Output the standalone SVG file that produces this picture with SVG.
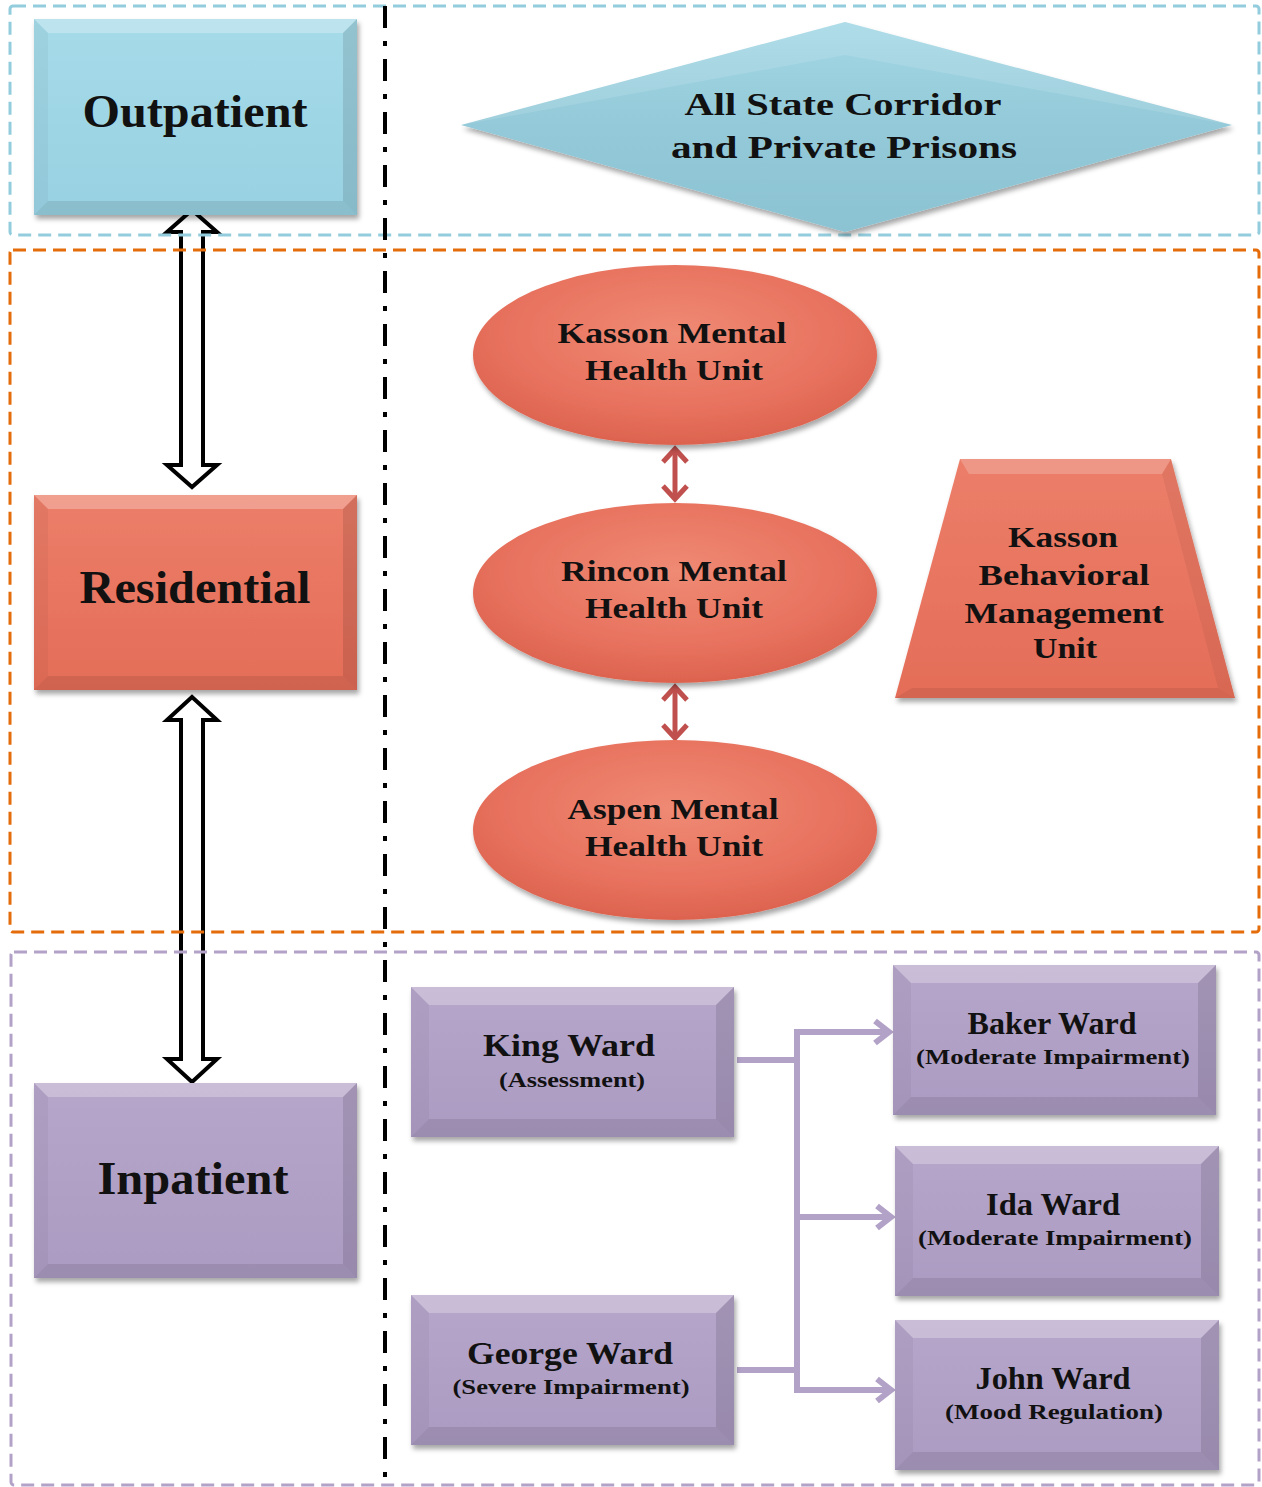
<svg xmlns="http://www.w3.org/2000/svg" width="1262" height="1487" viewBox="0 0 1262 1487">
<defs>
<style>
.t{font-family:"Liberation Serif","Times New Roman",serif;font-weight:bold;fill:#111;text-anchor:middle}
.big{font-size:46px}
.mid{font-size:31px}
.sub{font-size:22px}
.bevT{fill:#fff;opacity:.26}
.bevB{fill:#000;opacity:.09}
.bevL{fill:#000;opacity:.04}
.bevR{fill:#000;opacity:.11}
.frame{fill:none;stroke-width:3;stroke-dasharray:13 7}
</style>
<filter id="sh" x="-10%" y="-10%" width="125%" height="130%">
<feDropShadow dx="2" dy="4" stdDeviation="2.5" flood-color="#000" flood-opacity="0.35"/>
</filter>
<linearGradient id="blueG" x1="0" y1="0" x2="0" y2="1">
<stop offset="0" stop-color="#a6dbe9"/><stop offset="1" stop-color="#98d1e2"/>
</linearGradient>
<linearGradient id="diaG" x1="0" y1="0" x2="0" y2="1">
<stop offset="0" stop-color="#a4d8e6"/><stop offset="0.5" stop-color="#93c9d8"/><stop offset="1" stop-color="#8cc3d3"/>
</linearGradient>
<linearGradient id="redG" x1="0" y1="0" x2="0" y2="1">
<stop offset="0" stop-color="#ec7e69"/><stop offset="1" stop-color="#e46d58"/>
</linearGradient>
<radialGradient id="ellG" cx="50%" cy="38%" r="62%">
<stop offset="0" stop-color="#ef8a74"/><stop offset="0.65" stop-color="#e8735f"/><stop offset="1" stop-color="#dc634f"/>
</radialGradient>
<linearGradient id="purG" x1="0" y1="0" x2="0" y2="1">
<stop offset="0" stop-color="#b6a6ca"/><stop offset="1" stop-color="#ab9bc2"/>
</linearGradient>
<marker id="pArr" markerWidth="22" markerHeight="28" refX="17" refY="14" orient="auto" markerUnits="userSpaceOnUse">
<path d="M3,3 L17,14 L3,25" fill="none" stroke="#b3a2c7" stroke-width="6"/>
</marker>
</defs>
<rect width="1262" height="1487" fill="#fff"/>

<g id="connectors">
<path d="M192,210 L217,232 L203,232 L203,465 L217,465 L192,487 L167,465 L181,465 L181,232 L167,232 Z" fill="none" stroke="#000" stroke-width="4" stroke-linejoin="miter"/>
<path d="M192,697 L217,720 L203,720 L203,1059 L217,1059 L192,1082 L167,1059 L181,1059 L181,720 L167,720 Z" fill="none" stroke="#000" stroke-width="4" stroke-linejoin="miter"/>
<g stroke="#c0504d" stroke-width="5" fill="none">
<line x1="675" y1="449" x2="675" y2="499"/>
<polyline points="663,462 675,449 687,462"/>
<polyline points="663,486 675,499 687,486"/>
<line x1="675" y1="687" x2="675" y2="738"/>
<polyline points="663,700 675,687 687,700"/>
<polyline points="663,725 675,738 687,725"/>
</g>
<g stroke="#b3a2c7" stroke-width="6" fill="none">
<path d="M737,1060 H797"/>
<path d="M737,1370 H797"/>
<path d="M797,1029 V1393"/>
<path d="M794,1032 H889" marker-end="url(#pArr)"/>
<path d="M797,1217 H891" marker-end="url(#pArr)"/>
<path d="M794,1390 H891" marker-end="url(#pArr)"/>
</g>
</g>

<g id="frames">
<rect class="frame" x="10" y="6" width="1249" height="229" rx="3" stroke="#93cddd"/>
<rect class="frame" x="10" y="250" width="1249" height="682" rx="3" stroke="#e46c0a"/>
<rect class="frame" x="11" y="952" width="1248" height="533" rx="3" stroke="#b3a2c7"/>
<line x1="385" y1="6" x2="385" y2="1487" stroke="#000" stroke-width="4" stroke-dasharray="22 13 5 13"/>
</g>

<g id="outpatient">
<g filter="url(#sh)"><rect x="34" y="19" width="323" height="196" fill="url(#blueG)"/></g>
<polygon class="bevT" points="34,19 357,19 343,33 48,33"/>
<polygon class="bevB" points="34,215 357,215 343,201 48,201"/>
<polygon class="bevL" points="34,19 48,33 48,201 34,215"/>
<polygon class="bevR" points="357,19 343,33 343,201 357,215"/>
<text class="t big" x="195" y="127" textLength="225" lengthAdjust="spacingAndGlyphs">Outpatient</text>
</g>

<g id="prisons">
<g filter="url(#sh)"><polygon points="845,22 1232,125 845,232 461,125" fill="url(#diaG)"/></g>
<polygon points="845,22 1232,125 845,55 461,125" fill="#fff" opacity="0.12"/>
<text class="t" style="font-size:32px" x="843" y="115" textLength="317" lengthAdjust="spacingAndGlyphs">All State Corridor</text>
<text class="t" style="font-size:32px" x="844" y="158" textLength="346" lengthAdjust="spacingAndGlyphs">and Private Prisons</text>
</g>

<g id="residential">
<g filter="url(#sh)"><rect x="34" y="495" width="323" height="195" fill="url(#redG)"/></g>
<polygon class="bevT" points="34,495 357,495 343,509 48,509"/>
<polygon class="bevB" points="34,690 357,690 343,676 48,676"/>
<polygon class="bevL" points="34,495 48,509 48,676 34,690"/>
<polygon class="bevR" points="357,495 343,509 343,676 357,690"/>
<text class="t big" x="195" y="603" textLength="231" lengthAdjust="spacingAndGlyphs">Residential</text>
</g>

<g id="kasson-mhu">
<g filter="url(#sh)"><ellipse cx="675" cy="355" rx="202" ry="90" fill="url(#ellG)"/></g>
<text class="t" style="font-size:29px" x="672" y="343" textLength="229" lengthAdjust="spacingAndGlyphs">Kasson Mental</text>
<text class="t" style="font-size:29px" x="674" y="380" textLength="178" lengthAdjust="spacingAndGlyphs">Health Unit</text>
</g>

<g id="rincon-mhu">
<g filter="url(#sh)"><ellipse cx="675" cy="593" rx="202" ry="90" fill="url(#ellG)"/></g>
<text class="t" style="font-size:29px" x="674" y="581" textLength="226" lengthAdjust="spacingAndGlyphs">Rincon Mental</text>
<text class="t" style="font-size:29px" x="674" y="618" textLength="178" lengthAdjust="spacingAndGlyphs">Health Unit</text>
</g>

<g id="aspen-mhu">
<g filter="url(#sh)"><ellipse cx="675" cy="830" rx="202" ry="90" fill="url(#ellG)"/></g>
<text class="t" style="font-size:29px" x="673" y="819" textLength="211" lengthAdjust="spacingAndGlyphs">Aspen Mental</text>
<text class="t" style="font-size:29px" x="674" y="856" textLength="178" lengthAdjust="spacingAndGlyphs">Health Unit</text>
</g>

<g id="kasson-bmu">
<g filter="url(#sh)"><polygon points="960,459 1171,459 1235,698 895,698" fill="url(#redG)"/></g>
<polygon points="960,459 1171,459 1162,474 969,474" fill="#fff" opacity="0.2"/>
<polygon points="1171,459 1235,698 1218,688 1162,474" fill="#000" opacity="0.05"/>
<polygon points="895,698 1235,698 1218,688 912,688" fill="#000" opacity="0.07"/>
<text class="t" style="font-size:29px" x="1063" y="547" textLength="110" lengthAdjust="spacingAndGlyphs">Kasson</text>
<text class="t" style="font-size:29px" x="1064" y="585" textLength="171" lengthAdjust="spacingAndGlyphs">Behavioral</text>
<text class="t" style="font-size:29px" x="1064" y="623" textLength="199" lengthAdjust="spacingAndGlyphs">Management</text>
<text class="t" style="font-size:29px" x="1065" y="658" textLength="64" lengthAdjust="spacingAndGlyphs">Unit</text>
</g>

<g id="inpatient">
<g filter="url(#sh)"><rect x="34" y="1083" width="323" height="195" fill="url(#purG)"/></g>
<polygon class="bevT" points="34,1083 357,1083 343,1097 48,1097"/>
<polygon class="bevB" points="34,1278 357,1278 343,1264 48,1264"/>
<polygon class="bevL" points="34,1083 48,1097 48,1264 34,1278"/>
<polygon class="bevR" points="357,1083 343,1097 343,1264 357,1278"/>
<text class="t big" x="193" y="1194" textLength="191" lengthAdjust="spacingAndGlyphs">Inpatient</text>
</g>

<g id="king-ward">
<g filter="url(#sh)"><rect x="411" y="987" width="323" height="150" fill="url(#purG)"/></g>
<polygon class="bevT" points="411,987 734,987 716,1005 429,1005"/>
<polygon class="bevB" points="411,1137 734,1137 716,1119 429,1119"/>
<polygon class="bevL" points="411,987 429,1005 429,1119 411,1137"/>
<polygon class="bevR" points="734,987 716,1005 716,1119 734,1137"/>
<text class="t mid" x="569" y="1056" textLength="172" lengthAdjust="spacingAndGlyphs">King Ward</text>
<text class="t sub" x="572" y="1087" textLength="146" lengthAdjust="spacingAndGlyphs">(Assessment)</text>
</g>

<g id="george-ward">
<g filter="url(#sh)"><rect x="411" y="1295" width="323" height="150" fill="url(#purG)"/></g>
<polygon class="bevT" points="411,1295 734,1295 716,1313 429,1313"/>
<polygon class="bevB" points="411,1445 734,1445 716,1427 429,1427"/>
<polygon class="bevL" points="411,1295 429,1313 429,1427 411,1445"/>
<polygon class="bevR" points="734,1295 716,1313 716,1427 734,1445"/>
<text class="t mid" x="570" y="1364" textLength="206" lengthAdjust="spacingAndGlyphs">George Ward</text>
<text class="t sub" x="571" y="1394" textLength="237" lengthAdjust="spacingAndGlyphs">(Severe Impairment)</text>
</g>

<g id="baker-ward">
<g filter="url(#sh)"><rect x="893" y="965" width="323" height="150" fill="url(#purG)"/></g>
<polygon class="bevT" points="893,965 1216,965 1198,983 911,983"/>
<polygon class="bevB" points="893,1115 1216,1115 1198,1097 911,1097"/>
<polygon class="bevL" points="893,965 911,983 911,1097 893,1115"/>
<polygon class="bevR" points="1216,965 1198,983 1198,1097 1216,1115"/>
<text class="t mid" x="1052" y="1034" textLength="169" lengthAdjust="spacingAndGlyphs">Baker Ward</text>
<text class="t sub" x="1053" y="1064" textLength="274" lengthAdjust="spacingAndGlyphs">(Moderate  Impairment)</text>
</g>

<g id="ida-ward">
<g filter="url(#sh)"><rect x="895" y="1146" width="324" height="150" fill="url(#purG)"/></g>
<polygon class="bevT" points="895,1146 1219,1146 1201,1164 913,1164"/>
<polygon class="bevB" points="895,1296 1219,1296 1201,1278 913,1278"/>
<polygon class="bevL" points="895,1146 913,1164 913,1278 895,1296"/>
<polygon class="bevR" points="1219,1146 1201,1164 1201,1278 1219,1296"/>
<text class="t mid" x="1053" y="1215" textLength="134" lengthAdjust="spacingAndGlyphs">Ida Ward</text>
<text class="t sub" x="1055" y="1245" textLength="274" lengthAdjust="spacingAndGlyphs">(Moderate  Impairment)</text>
</g>

<g id="john-ward">
<g filter="url(#sh)"><rect x="895" y="1320" width="324" height="150" fill="url(#purG)"/></g>
<polygon class="bevT" points="895,1320 1219,1320 1201,1338 913,1338"/>
<polygon class="bevB" points="895,1470 1219,1470 1201,1452 913,1452"/>
<polygon class="bevL" points="895,1320 913,1338 913,1452 895,1470"/>
<polygon class="bevR" points="1219,1320 1201,1338 1201,1452 1219,1470"/>
<text class="t mid" x="1053" y="1389" textLength="155" lengthAdjust="spacingAndGlyphs">John Ward</text>
<text class="t sub" x="1054" y="1419" textLength="218" lengthAdjust="spacingAndGlyphs">(Mood Regulation)</text>
</g>
</svg>
